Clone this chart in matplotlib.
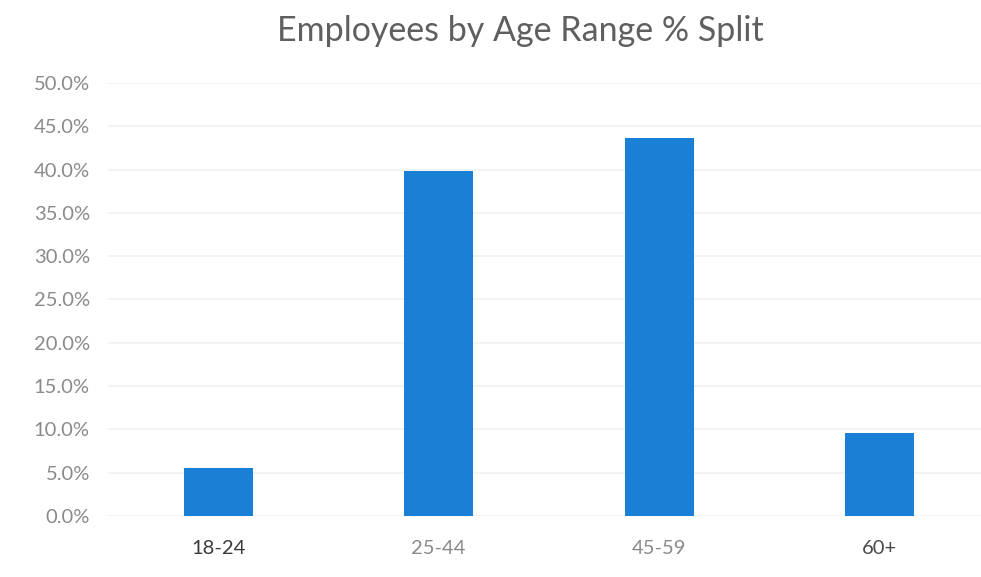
import numpy as np
from matplotlib import pyplot as plt
from matplotlib.ticker import PercentFormatter

plt.rcParams['font.family'] = ['Lato', 'DejaVu Sans']

age_ranges = ['18-24', '25-44', '45-59', '60+']
pct_split = [5.6, 39.8, 43.7, 9.6]
label_colors = ['#3a3a3a', '#8a8a8a', '#8a8a8a', '#4a4a4a']

fig = plt.figure(figsize=(9.81, 5.77), dpi=100)
ax = fig.add_axes([0.110, 0.1057, 0.89, 0.7505])

x = np.arange(len(age_ranges))
ax.bar(x, pct_split, width=0.313, color='#1a80d6', zorder=3)

ax.set_ylim(0, 50)
ax.set_xlim(-0.5, 3.46)
ax.set_yticks(np.arange(0, 50.1, 5))
ax.yaxis.set_major_formatter(PercentFormatter(decimals=1))
ax.set_xticks(x)
ax.set_xticklabels(age_ranges)
for lbl, c in zip(ax.get_xticklabels(), label_colors):
    lbl.set_color(c)

ax.grid(axis='y', color='#f1f1f1', linewidth=1.2, zorder=0)
for s in ax.spines.values():
    s.set_visible(False)
ax.tick_params(axis='both', length=0, labelsize=14.5)
ax.tick_params(axis='y', colors='#8a8a8a', pad=13)
ax.tick_params(axis='x', pad=17)

fig.text(0.53, 1 - 31 / 577, 'Employees by Age Range % Split',
         ha='center', va='center', fontsize=24.5, color='#5f5f5f')

fig.savefig('out.png', dpi=100)
